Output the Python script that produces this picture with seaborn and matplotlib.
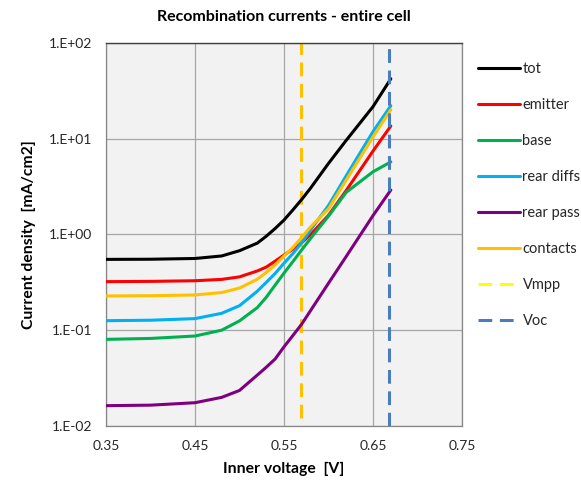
import numpy as np
import pandas as pd
import matplotlib
matplotlib.use("Agg")
import matplotlib.pyplot as plt
from matplotlib.lines import Line2D
import seaborn as sns

voltage    = [0.35, 0.40, 0.45, 0.48, 0.50, 0.52, 0.53, 0.54, 0.55, 0.56, 0.57, 0.58, 0.60, 0.62, 0.65, 0.67]
tot        = [0.548, 0.550, 0.560, 0.595, 0.675, 0.810, 0.955, 1.15, 1.41, 1.80, 2.32, 3.05, 5.5, 9.6, 21.5, 42.0]
emitter    = [0.321, 0.323, 0.328, 0.339, 0.360, 0.415, 0.455, 0.525, 0.608, 0.700, 0.820, 1.00, 1.58, 2.88, 7.4, 13.5]
base       = [0.0802, 0.082, 0.0869, 0.100, 0.125, 0.172, 0.220, 0.295, 0.394, 0.52, 0.69, 0.91, 1.55, 2.75, 4.5, 5.7]
rear_diffs = [0.1256, 0.127, 0.132, 0.150, 0.180, 0.255, 0.315, 0.390, 0.500, 0.63, 0.82, 1.12, 2.00, 4.1, 11.8, 22.0]
rear_pass  = [0.0163, 0.0165, 0.0175, 0.0199, 0.0235, 0.0340, 0.041, 0.050, 0.067, 0.088, 0.116, 0.161, 0.309, 0.59, 1.57, 2.9]
contacts   = [0.2276, 0.229, 0.233, 0.247, 0.275, 0.340, 0.400, 0.480, 0.593, 0.73, 0.93, 1.20, 1.85, 3.7, 10.4, 20.0]

series_names = ["tot", "emitter", "base", "rear diffs", "rear pass", "contacts"]
series_values = [tot, emitter, base, rear_diffs, rear_pass, contacts]
series_colors = ["#000000", "#ff0000", "#00b050", "#00b0f0", "#7f007f", "#ffc000"]

vmpp_x = [0.569, 0.569]
vmpp_y = [0.012, 100]
voc_x = [0.668, 0.668]
voc_y = [0.01, 100]

x_ticks = [0.35, 0.45, 0.55, 0.65, 0.75]
y_ticks = [0.01, 0.1, 1, 10, 100]
y_tick_labels = ["1.E-02", "1.E-01", "1.E+00", "1.E+01", "1.E+02"]

rows = []
for name, vals in zip(series_names, series_values):
    for v, j in zip(voltage, vals):
        rows.append({"V": v, "J": j, "series": name})
df = pd.DataFrame(rows)

sns.set_theme(style="white")
plt.rcParams["font.family"] = ["Lato", "DejaVu Sans"]

fig = plt.figure(figsize=(5.81, 4.87), dpi=100)
ax = fig.add_axes([106/581, 1-426/487, (462-106)/581, (426-42.7)/487])
ax.set_facecolor("#f2f2f2")

palette = dict(zip(series_names, series_colors))
sns.lineplot(data=df, x="V", y="J", hue="series", hue_order=series_names,
             palette=palette, linewidth=2.2, legend=False, ax=ax, zorder=3)
sns.lineplot(x=vmpp_x, y=vmpp_y, color="#ffc000", linewidth=2.2, ax=ax, zorder=2.5,
             estimator=None, sort=False)
ax.lines[-1].set_dashes((4.5, 2.5))
sns.lineplot(x=voc_x, y=voc_y, color="#4a7ebb", linewidth=2.2, ax=ax, zorder=4,
             estimator=None, sort=False)
ax.lines[-1].set_dashes((4.5, 2.5))

ax.set_yscale("log")
ax.set_xlim(0.35, 0.75)
ax.set_ylim(0.01, 100)
ax.set_xticks(x_ticks)
ax.set_xticklabels([f"{t:.2f}" for t in x_ticks], fontsize=10, color="#262626")
ax.set_yticks(y_ticks)
ax.set_yticklabels(y_tick_labels, fontsize=10, color="#262626")
ax.yaxis.set_minor_locator(matplotlib.ticker.NullLocator())
ax.grid(True, color="#a6a6a6", linewidth=0.9, zorder=1)
ax.set_axisbelow(True)
ax.tick_params(axis="both", direction="out", length=4, width=0.9, color="#868686", pad=6)
for side in ["left", "bottom", "right"]:
    ax.spines[side].set_color("#868686")
    ax.spines[side].set_linewidth(0.9)
ax.spines["top"].set_color("#404040")
ax.spines["top"].set_linewidth(1.0)

ax.set_xlabel("Inner voltage  [V]", fontsize=11.3, fontweight="bold", color="#000000", labelpad=7)
ax.set_ylabel("Current density  [mA/cm2]", fontsize=11.3, fontweight="bold", color="#000000", labelpad=9)
fig.text(284/581, 1-17/487, "Recombination currents - entire cell", ha="center", va="center",
         fontsize=11.5, fontweight="bold", color="#000000")

handles = [Line2D([0], [0], color=c, linewidth=2.2) for c in series_colors]
handles.append(Line2D([0], [0], color="#ffff00", linewidth=2.2, dashes=(4.5, 2.5)))
handles.append(Line2D([0], [0], color="#4a7ebb", linewidth=2.2, dashes=(4.5, 2.5)))
labels = series_names + ["Vmpp", "Voc"]
fig.legend(handles, labels, loc="upper left", bbox_to_anchor=(478/581, 1-62/487),
           frameon=False, fontsize=10.5, handlelength=2.9, handletextpad=0.15,
           labelspacing=1.51, borderpad=0, borderaxespad=0)

fig.savefig("out.png", dpi=100)
